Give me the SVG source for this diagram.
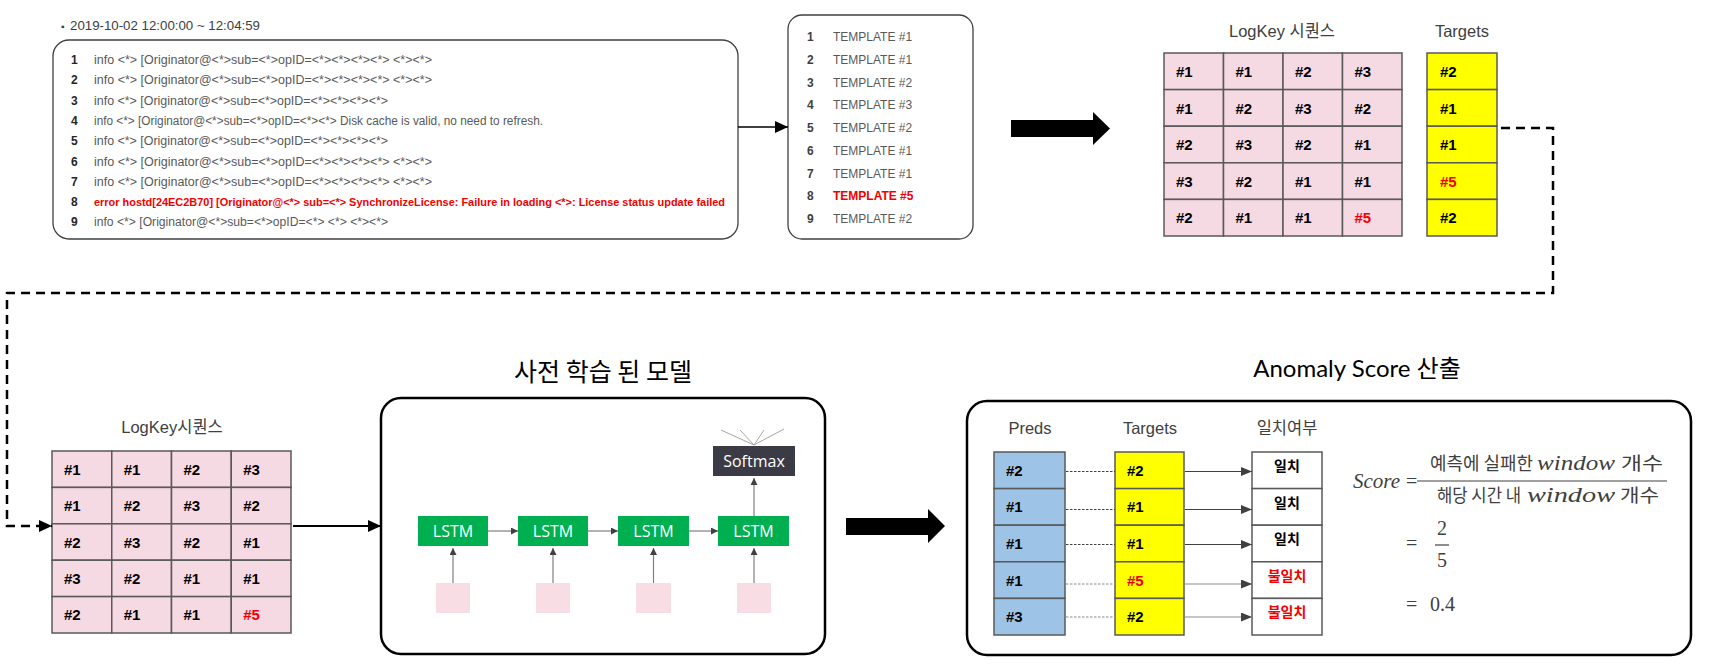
<svg xmlns="http://www.w3.org/2000/svg" width="1710" height="666" viewBox="0 0 1710 666">
<defs>
<style>
.lg{font-family:"Liberation Sans","Noto Sans CJK KR",sans-serif;font-size:12.5px;fill:#595959}
.ln{font-family:"Liberation Sans",sans-serif;font-size:12px;font-weight:bold;fill:#262626}
.tp{font-family:"Liberation Sans",sans-serif;font-size:12px;fill:#595959}
.tn{font-family:"Liberation Sans",sans-serif;font-size:12px;font-weight:bold;fill:#404040}
.cell{fill:#F5D9E3;stroke:#595959;stroke-width:1.5}
.yel{fill:#FFFF00;stroke:#595959;stroke-width:1.5}
.blu{fill:#9DC3E6;stroke:#595959;stroke-width:1.5}
.wht{fill:#FFFFFF;stroke:#595959;stroke-width:1.5}
.ct{font-family:"Liberation Sans",sans-serif;font-size:15px;font-weight:bold;fill:#000}
.ttl{font-family:"Liberation Sans","Noto Sans CJK KR",sans-serif;font-size:16.5px;fill:#404040}
.big{font-family:"Noto Sans CJK KR",sans-serif;font-size:25px;fill:#000}
.box{fill:#fff;stroke:#000;stroke-width:2.5}
.thin{fill:#fff;stroke:#404040;stroke-width:1.3}
.lstm{fill:#00B050}
.lt{font-family:"Open Sans",sans-serif;font-size:16px;fill:#fff}
.pink{fill:#F8DDE5}
.ga{stroke:#7F7F7F;stroke-width:1.2;fill:none}
.mk{font-family:"Noto Sans CJK KR",sans-serif;font-size:14px;font-weight:bold;fill:#000}
.kr{font-family:"Noto Sans CJK KR",sans-serif;font-size:18px;fill:#404040}
.mi{font-family:"Liberation Serif",serif;font-style:italic;font-size:21px;fill:#404040}
.mr{font-family:"Liberation Serif",serif;font-size:20px;fill:#404040}
text.red{fill:#F00000}
</style>
<marker id="ahB" markerWidth="13" markerHeight="12" refX="13" refY="6" orient="auto" markerUnits="userSpaceOnUse"><path d="M0,0 L13,6 L0,12 z" fill="#000"/></marker>
<marker id="ahS" markerWidth="7" markerHeight="7" refX="7" refY="3.5" orient="auto" markerUnits="userSpaceOnUse"><path d="M0,0 L7,3.5 L0,7 z" fill="#404040"/></marker>
<marker id="ahM" markerWidth="11" markerHeight="9" refX="11" refY="4.5" orient="auto" markerUnits="userSpaceOnUse"><path d="M0,0 L11,4.5 L0,9 z" fill="#404040"/></marker>
</defs>
<rect width="1710" height="666" fill="#fff"/>

<g id="date">
<text x="61" y="30" style="font-family:'Liberation Sans',sans-serif;font-size:10px;fill:#404040">▪</text>
<text x="70" y="30" style="font-family:'Liberation Sans',sans-serif;font-size:13.5px;fill:#404040" textLength="190" lengthAdjust="spacingAndGlyphs">2019-10-02 12:00:00 ~ 12:04:59</text>
</g>

<g id="logbox">
<rect x="53" y="40" width="685" height="199" rx="16" class="thin"/>
<text x="71" y="64" class="ln">1</text>
<text x="71" y="84.3" class="ln">2</text>
<text x="71" y="104.6" class="ln">3</text>
<text x="71" y="125" class="ln">4</text>
<text x="71" y="145.2" class="ln">5</text>
<text x="71" y="165.5" class="ln">6</text>
<text x="71" y="185.8" class="ln">7</text>
<text x="71" y="206.1" class="ln">8</text>
<text x="71" y="226.4" class="ln">9</text>
<text x="94" y="64" class="lg" textLength="338" lengthAdjust="spacingAndGlyphs">info &lt;*&gt; [Originator@&lt;*&gt;sub=&lt;*&gt;opID=&lt;*&gt;&lt;*&gt;&lt;*&gt;&lt;*&gt; &lt;*&gt;&lt;*&gt;</text>
<text x="94" y="84.3" class="lg" textLength="338" lengthAdjust="spacingAndGlyphs">info &lt;*&gt; [Originator@&lt;*&gt;sub=&lt;*&gt;opID=&lt;*&gt;&lt;*&gt;&lt;*&gt;&lt;*&gt; &lt;*&gt;&lt;*&gt;</text>
<text x="94" y="104.6" class="lg" textLength="294" lengthAdjust="spacingAndGlyphs">info &lt;*&gt; [Originator@&lt;*&gt;sub=&lt;*&gt;opID=&lt;*&gt;&lt;*&gt;&lt;*&gt;&lt;*&gt;</text>
<text x="94" y="125" class="lg" textLength="449" lengthAdjust="spacingAndGlyphs">info &lt;*&gt; [Originator@&lt;*&gt;sub=&lt;*&gt;opID=&lt;*&gt;&lt;*&gt; Disk cache is valid, no need to refresh.</text>
<text x="94" y="145.2" class="lg" textLength="294" lengthAdjust="spacingAndGlyphs">info &lt;*&gt; [Originator@&lt;*&gt;sub=&lt;*&gt;opID=&lt;*&gt;&lt;*&gt;&lt;*&gt;&lt;*&gt;</text>
<text x="94" y="165.5" class="lg" textLength="338" lengthAdjust="spacingAndGlyphs">info &lt;*&gt; [Originator@&lt;*&gt;sub=&lt;*&gt;opID=&lt;*&gt;&lt;*&gt;&lt;*&gt;&lt;*&gt; &lt;*&gt;&lt;*&gt;</text>
<text x="94" y="185.8" class="lg" textLength="338" lengthAdjust="spacingAndGlyphs">info &lt;*&gt; [Originator@&lt;*&gt;sub=&lt;*&gt;opID=&lt;*&gt;&lt;*&gt;&lt;*&gt;&lt;*&gt; &lt;*&gt;&lt;*&gt;</text>
<text x="94" y="206.1" class="lg red" style="font-weight:bold;font-size:11px" textLength="631" lengthAdjust="spacingAndGlyphs">error hostd[24EC2B70] [Originator@&lt;*&gt; sub=&lt;*&gt; SynchronizeLicense: Failure in loading &lt;*&gt;: License status update failed</text>
<text x="94" y="226.4" class="lg" textLength="294" lengthAdjust="spacingAndGlyphs">info &lt;*&gt; [Originator@&lt;*&gt;sub=&lt;*&gt;opID=&lt;*&gt; &lt;*&gt; &lt;*&gt;&lt;*&gt;</text>
</g>

<g id="templatebox">
<rect x="788" y="15" width="185" height="224" rx="14" class="thin"/>
<text x="807" y="41" class="tn">1</text>
<text x="807" y="63.8" class="tn">2</text>
<text x="807" y="86.5" class="tn">3</text>
<text x="807" y="109.3" class="tn">4</text>
<text x="807" y="132" class="tn">5</text>
<text x="807" y="154.8" class="tn">6</text>
<text x="807" y="177.5" class="tn">7</text>
<text x="807" y="200.3" class="tn">8</text>
<text x="807" y="223" class="tn">9</text>
<text x="833" y="41" class="tp">TEMPLATE #1</text>
<text x="833" y="63.8" class="tp">TEMPLATE #1</text>
<text x="833" y="86.5" class="tp">TEMPLATE #2</text>
<text x="833" y="109.3" class="tp">TEMPLATE #3</text>
<text x="833" y="132" class="tp">TEMPLATE #2</text>
<text x="833" y="154.8" class="tp">TEMPLATE #1</text>
<text x="833" y="177.5" class="tp">TEMPLATE #1</text>
<text x="833" y="200.3" class="tp red" style="font-weight:bold">TEMPLATE #5</text>
<text x="833" y="223" class="tp">TEMPLATE #2</text>
</g>

<g id="logkey-top">
<text x="1282" y="37" class="ttl" text-anchor="middle">LogKey 시퀀스</text>
<rect x="1164" y="53" width="59.5" height="36.6" class="cell"/><rect x="1223.5" y="53" width="59.5" height="36.6" class="cell"/><rect x="1283" y="53" width="59.5" height="36.6" class="cell"/><rect x="1342.5" y="53" width="59.5" height="36.6" class="cell"/>
<rect x="1164" y="89.6" width="59.5" height="36.6" class="cell"/><rect x="1223.5" y="89.6" width="59.5" height="36.6" class="cell"/><rect x="1283" y="89.6" width="59.5" height="36.6" class="cell"/><rect x="1342.5" y="89.6" width="59.5" height="36.6" class="cell"/>
<rect x="1164" y="126.2" width="59.5" height="36.6" class="cell"/><rect x="1223.5" y="126.2" width="59.5" height="36.6" class="cell"/><rect x="1283" y="126.2" width="59.5" height="36.6" class="cell"/><rect x="1342.5" y="126.2" width="59.5" height="36.6" class="cell"/>
<rect x="1164" y="162.8" width="59.5" height="36.6" class="cell"/><rect x="1223.5" y="162.8" width="59.5" height="36.6" class="cell"/><rect x="1283" y="162.8" width="59.5" height="36.6" class="cell"/><rect x="1342.5" y="162.8" width="59.5" height="36.6" class="cell"/>
<rect x="1164" y="199.4" width="59.5" height="36.6" class="cell"/><rect x="1223.5" y="199.4" width="59.5" height="36.6" class="cell"/><rect x="1283" y="199.4" width="59.5" height="36.6" class="cell"/><rect x="1342.5" y="199.4" width="59.5" height="36.6" class="cell"/>
<text x="1176" y="77" class="ct">#1</text><text x="1235.5" y="77" class="ct">#1</text><text x="1295" y="77" class="ct">#2</text><text x="1354.5" y="77" class="ct">#3</text>
<text x="1176" y="113.6" class="ct">#1</text><text x="1235.5" y="113.6" class="ct">#2</text><text x="1295" y="113.6" class="ct">#3</text><text x="1354.5" y="113.6" class="ct">#2</text>
<text x="1176" y="150.2" class="ct">#2</text><text x="1235.5" y="150.2" class="ct">#3</text><text x="1295" y="150.2" class="ct">#2</text><text x="1354.5" y="150.2" class="ct">#1</text>
<text x="1176" y="186.8" class="ct">#3</text><text x="1235.5" y="186.8" class="ct">#2</text><text x="1295" y="186.8" class="ct">#1</text><text x="1354.5" y="186.8" class="ct">#1</text>
<text x="1176" y="223.4" class="ct">#2</text><text x="1235.5" y="223.4" class="ct">#1</text><text x="1295" y="223.4" class="ct">#1</text><text x="1354.5" y="223.4" class="ct red">#5</text>
</g>

<g id="targets-top">
<text x="1462" y="37" class="ttl" text-anchor="middle">Targets</text>
<rect x="1427" y="53" width="70" height="36.6" class="yel"/>
<rect x="1427" y="89.6" width="70" height="36.6" class="yel"/>
<rect x="1427" y="126.2" width="70" height="36.6" class="yel"/>
<rect x="1427" y="162.8" width="70" height="36.6" class="yel"/>
<rect x="1427" y="199.4" width="70" height="36.6" class="yel"/>
<text x="1440" y="77" class="ct">#2</text>
<text x="1440" y="113.6" class="ct">#1</text>
<text x="1440" y="150.2" class="ct">#1</text>
<text x="1440" y="186.8" class="ct red">#5</text>
<text x="1440" y="223.4" class="ct">#2</text>
</g>

<g id="logkey-bottom">
<text x="172" y="433" class="ttl" text-anchor="middle">LogKey시퀀스</text>
<rect x="52" y="451" width="59.75" height="36.4" class="cell"/><rect x="111.75" y="451" width="59.75" height="36.4" class="cell"/><rect x="171.5" y="451" width="59.75" height="36.4" class="cell"/><rect x="231.25" y="451" width="59.75" height="36.4" class="cell"/>
<rect x="52" y="487.4" width="59.75" height="36.4" class="cell"/><rect x="111.75" y="487.4" width="59.75" height="36.4" class="cell"/><rect x="171.5" y="487.4" width="59.75" height="36.4" class="cell"/><rect x="231.25" y="487.4" width="59.75" height="36.4" class="cell"/>
<rect x="52" y="523.8" width="59.75" height="36.4" class="cell"/><rect x="111.75" y="523.8" width="59.75" height="36.4" class="cell"/><rect x="171.5" y="523.8" width="59.75" height="36.4" class="cell"/><rect x="231.25" y="523.8" width="59.75" height="36.4" class="cell"/>
<rect x="52" y="560.2" width="59.75" height="36.4" class="cell"/><rect x="111.75" y="560.2" width="59.75" height="36.4" class="cell"/><rect x="171.5" y="560.2" width="59.75" height="36.4" class="cell"/><rect x="231.25" y="560.2" width="59.75" height="36.4" class="cell"/>
<rect x="52" y="596.6" width="59.75" height="36.4" class="cell"/><rect x="111.75" y="596.6" width="59.75" height="36.4" class="cell"/><rect x="171.5" y="596.6" width="59.75" height="36.4" class="cell"/><rect x="231.25" y="596.6" width="59.75" height="36.4" class="cell"/>
<text x="64" y="474.7" class="ct">#1</text><text x="123.75" y="474.7" class="ct">#1</text><text x="183.5" y="474.7" class="ct">#2</text><text x="243.25" y="474.7" class="ct">#3</text>
<text x="64" y="511.1" class="ct">#1</text><text x="123.75" y="511.1" class="ct">#2</text><text x="183.5" y="511.1" class="ct">#3</text><text x="243.25" y="511.1" class="ct">#2</text>
<text x="64" y="547.5" class="ct">#2</text><text x="123.75" y="547.5" class="ct">#3</text><text x="183.5" y="547.5" class="ct">#2</text><text x="243.25" y="547.5" class="ct">#1</text>
<text x="64" y="583.9" class="ct">#3</text><text x="123.75" y="583.9" class="ct">#2</text><text x="183.5" y="583.9" class="ct">#1</text><text x="243.25" y="583.9" class="ct">#1</text>
<text x="64" y="620.3" class="ct">#2</text><text x="123.75" y="620.3" class="ct">#1</text><text x="183.5" y="620.3" class="ct">#1</text><text x="243.25" y="620.3" class="ct red">#5</text>
</g>

<g id="model">
<text x="603" y="381" class="big" text-anchor="middle">사전 학습 된 모델</text>
<rect x="381" y="398" width="444" height="256" rx="20" class="box"/>
<rect x="418" y="516" width="70" height="30" class="lstm"/>
<rect x="518" y="516" width="70" height="30" class="lstm"/>
<rect x="618" y="516" width="71" height="30" class="lstm"/>
<rect x="718" y="516" width="71" height="30" class="lstm"/>
<text x="453" y="537" class="lt" text-anchor="middle">LSTM</text>
<text x="553" y="537" class="lt" text-anchor="middle">LSTM</text>
<text x="653.5" y="537" class="lt" text-anchor="middle">LSTM</text>
<text x="753.5" y="537" class="lt" text-anchor="middle">LSTM</text>
<rect x="436" y="583" width="34" height="30" class="pink"/>
<rect x="536" y="583" width="34" height="30" class="pink"/>
<rect x="636" y="583" width="35" height="30" class="pink"/>
<rect x="737" y="583" width="34" height="30" class="pink"/>
<rect x="713" y="446" width="82" height="30" fill="#3B3B45"/>
<text x="754" y="467" class="lt" text-anchor="middle">Softmax</text>
<g stroke="#A6A6A6" stroke-width="1" fill="none">
<line x1="754" y1="445" x2="721" y2="430"/>
<line x1="754" y1="445" x2="740" y2="430"/>
<line x1="754" y1="445" x2="764" y2="430"/>
<line x1="754" y1="445" x2="784" y2="429"/>
</g>
</g>

<g id="anomaly">
<text x="1357" y="377" style="font-family:Lato,'Noto Sans CJK KR',sans-serif;font-size:24px;fill:#000" text-anchor="middle">Anomaly Score 산출</text>
<rect x="967" y="401" width="724" height="254" rx="20" class="box"/>
<text x="1030" y="434" class="ttl" text-anchor="middle">Preds</text>
<text x="1150" y="434" class="ttl" text-anchor="middle">Targets</text>
<text x="1287" y="434" class="ttl" text-anchor="middle">일치여부</text>
<rect x="994" y="452" width="71" height="36.6" class="blu"/>
<rect x="994" y="488.6" width="71" height="36.6" class="blu"/>
<rect x="994" y="525.2" width="71" height="36.6" class="blu"/>
<rect x="994" y="561.8" width="71" height="36.6" class="blu"/>
<rect x="994" y="598.4" width="71" height="36.6" class="blu"/>
<rect x="1115" y="452" width="69" height="36.6" class="yel"/>
<rect x="1115" y="488.6" width="69" height="36.6" class="yel"/>
<rect x="1115" y="525.2" width="69" height="36.6" class="yel"/>
<rect x="1115" y="561.8" width="69" height="36.6" class="yel"/>
<rect x="1115" y="598.4" width="69" height="36.6" class="yel"/>
<rect x="1252" y="452" width="70" height="36.6" class="wht"/>
<rect x="1252" y="488.6" width="70" height="36.6" class="wht"/>
<rect x="1252" y="525.2" width="70" height="36.6" class="wht"/>
<rect x="1252" y="561.8" width="70" height="36.6" class="wht"/>
<rect x="1252" y="598.4" width="70" height="36.6" class="wht"/>
<text x="1006" y="475.8" class="ct">#2</text>
<text x="1006" y="512.4" class="ct">#1</text>
<text x="1006" y="549" class="ct">#1</text>
<text x="1006" y="585.6" class="ct">#1</text>
<text x="1006" y="622.2" class="ct">#3</text>
<text x="1127" y="475.8" class="ct">#2</text>
<text x="1127" y="512.4" class="ct">#1</text>
<text x="1127" y="549" class="ct">#1</text>
<text x="1127" y="585.6" class="ct red">#5</text>
<text x="1127" y="622.2" class="ct">#2</text>
<text x="1287" y="471" class="mk" text-anchor="middle">일치</text>
<text x="1287" y="507.6" class="mk" text-anchor="middle">일치</text>
<text x="1287" y="544.2" class="mk" text-anchor="middle">일치</text>
<text x="1287" y="580.8" class="mk red" text-anchor="middle">불일치</text>
<text x="1287" y="617.4" class="mk red" text-anchor="middle">불일치</text>
</g>

<g id="formula">
<text x="1353" y="488" class="mi">Score</text>
<text x="1406" y="488" class="mr">=</text>
<line x1="1417" y1="481" x2="1667" y2="481" stroke="#404040" stroke-width="1.2"/>
<text x="1430" y="470" class="kr" textLength="103" lengthAdjust="spacingAndGlyphs">예측에 실패한</text>
<text x="1537" y="470" class="mi" textLength="78" lengthAdjust="spacingAndGlyphs">window</text>
<text x="1621" y="470" class="kr" textLength="42" lengthAdjust="spacingAndGlyphs">개수</text>
<text x="1437" y="502" class="kr" textLength="84" lengthAdjust="spacingAndGlyphs">해당 시간 내</text>
<text x="1527" y="502" class="mi" textLength="88" lengthAdjust="spacingAndGlyphs">window</text>
<text x="1620" y="502" class="kr" textLength="39" lengthAdjust="spacingAndGlyphs">개수</text>
<text x="1406" y="550" class="mr">=</text>
<text x="1442" y="535" class="mr" text-anchor="middle">2</text>
<line x1="1435" y1="545" x2="1449" y2="545" stroke="#404040" stroke-width="1.2"/>
<text x="1442" y="567" class="mr" text-anchor="middle">5</text>
<text x="1406" y="611" class="mr">=</text>
<text x="1430" y="611" class="mr">0.4</text>
</g>

<g id="connectors">
<line x1="738" y1="127" x2="788" y2="127" stroke="#000" stroke-width="1.5" marker-end="url(#ahB)"/>
<polygon points="1011,120 1093,120 1093,112 1110,128.5 1093,145 1093,137 1011,137" fill="#000"/>
<path d="M1501,128 H1553 V293 H7 V526 H52" fill="none" stroke="#000" stroke-width="2.5" stroke-dasharray="9,6" marker-end="url(#ahB)"/>
<line x1="293" y1="526" x2="381" y2="526" stroke="#000" stroke-width="2" marker-end="url(#ahB)"/>
<polygon points="846,518 928,518 928,509 945,526 928,543 928,535 846,535" fill="#000"/>
<line x1="488" y1="531" x2="518" y2="531" class="ga" marker-end="url(#ahS)"/>
<line x1="588" y1="531" x2="618" y2="531" class="ga" marker-end="url(#ahS)"/>
<line x1="689" y1="531" x2="718" y2="531" class="ga" marker-end="url(#ahS)"/>
<line x1="453" y1="583" x2="453" y2="548" class="ga" marker-end="url(#ahS)"/>
<line x1="553" y1="583" x2="553" y2="548" class="ga" marker-end="url(#ahS)"/>
<line x1="653.5" y1="583" x2="653.5" y2="548" class="ga" marker-end="url(#ahS)"/>
<line x1="754" y1="583" x2="754" y2="548" class="ga" marker-end="url(#ahS)"/>
<line x1="754" y1="516" x2="754" y2="478" class="ga" marker-end="url(#ahS)"/>
<g fill="none" stroke-width="1" stroke-dasharray="2.5,1.5">
<line x1="1066" y1="471.5" x2="1115" y2="471.5" stroke="#404040"/>
<line x1="1066" y1="509.5" x2="1115" y2="509.5" stroke="#404040"/>
<line x1="1066" y1="544.5" x2="1115" y2="544.5" stroke="#404040"/>
<line x1="1066" y1="584" x2="1115" y2="584" stroke="#8C8C8C"/>
<line x1="1066" y1="617" x2="1115" y2="617" stroke="#8C8C8C"/>
</g>
<g fill="none" stroke-width="1.2">
<line x1="1185" y1="471.5" x2="1252" y2="471.5" stroke="#404040" marker-end="url(#ahM)"/>
<line x1="1185" y1="509.5" x2="1252" y2="509.5" stroke="#404040" marker-end="url(#ahM)"/>
<line x1="1185" y1="544.5" x2="1252" y2="544.5" stroke="#404040" marker-end="url(#ahM)"/>
<line x1="1185" y1="584" x2="1252" y2="584" stroke="#8C8C8C" marker-end="url(#ahM)"/>
<line x1="1185" y1="617" x2="1252" y2="617" stroke="#8C8C8C" marker-end="url(#ahM)"/>
</g>
</g>
</svg>
